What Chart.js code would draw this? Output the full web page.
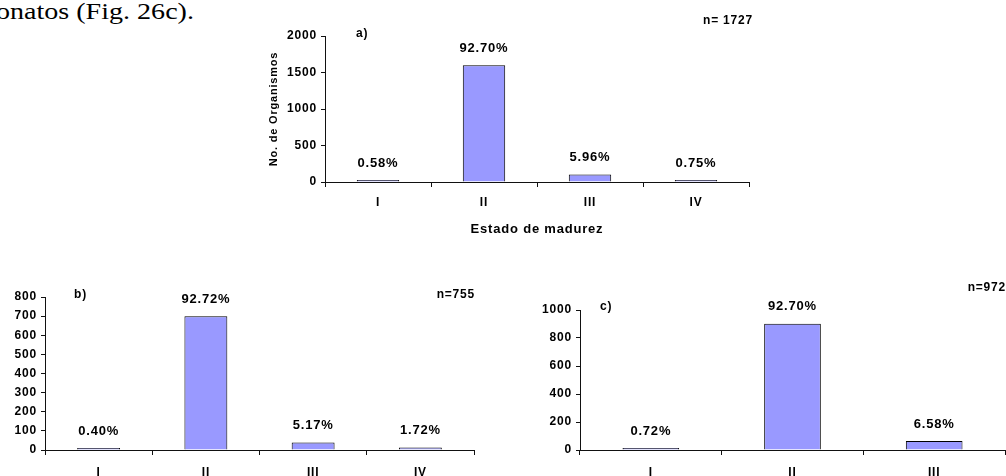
<!DOCTYPE html>
<html>
<head>
<meta charset="utf-8">
<script src="https://cdn.jsdelivr.net/npm/chart.js@4.4.1/dist/chart.umd.min.js"></script>
<style>
  html, body { margin: 0; padding: 0; background: #fff; }
  body { width: 1006px; height: 476px; overflow: hidden; position: relative; }
  canvas { position: absolute; }
  #lead {
    position: absolute; left: -4px; top: -1px;
    font: 23px "Liberation Serif", "Times New Roman", serif; color: #000;
    transform: scaleX(1.22); transform-origin: 0 0; white-space: nowrap;
  }
</style>
</head>
<body>
<div id="lead">onatos (Fig. 26c).</div>
<canvas id="chartA" width="540" height="245" style="left:240px;top:0px;width:540px;height:245px"></canvas>
<canvas id="chartB" width="500" height="215" style="left:0px;top:280px;width:500px;height:215px"></canvas>
<canvas id="chartC" width="500" height="215" style="left:530px;top:280px;width:500px;height:215px"></canvas>
<script>
// estados de madurez
const stages = ['I', 'II', 'III', 'IV'];
const stagesC = ['I', 'II', 'III'];

// a) total
const countsA = [10, 1601, 103, 13];
const percentA = ['0.58%', '92.70%', '5.96%', '0.75%'];
// b)
const countsB = [3, 700, 39, 13];
const percentB = ['0.40%', '92.72%', '5.17%', '1.72%'];
// c)
const countsC = [7, 901, 64];
const percentC = ['0.72%', '92.70%', '6.58%'];

const FONT = '"Liberation Sans", Arial, sans-serif';
Chart.defaults.font.family = FONT;
Chart.defaults.font.weight = 'bold';
Chart.defaults.color = '#000';

const barText = (percents, panel, panelAt, total, totalAt) => ({
    id: 'barText',
    beforeUpdate(chart) { chart.ctx.letterSpacing = '0.8px'; },
    beforeDraw(chart) { chart.ctx.letterSpacing = '0.8px'; },
    afterDatasetsDraw(chart) {
        const ctx = chart.ctx;
        ctx.save();
        ctx.fillStyle = '#000';
        ctx.font = 'bold 13px ' + FONT;
        ctx.textAlign = 'center';
        ctx.textBaseline = 'middle';
        chart.getDatasetMeta(0).data.forEach((bar, i) => {
            ctx.fillText(percents[i], bar.x, bar.y - 17);
        });
        ctx.font = 'bold 12px ' + FONT;
        ctx.textAlign = 'left';
        ctx.fillText(panel, panelAt[0], panelAt[1]);
        ctx.textAlign = 'right';
        ctx.fillText(total, totalAt[0], totalAt[1]);
        ctx.restore();
    }
});

const makeChart = (id, labels, counts, yMax, yStep, box, plugin) => new Chart(document.getElementById(id), {
    type: 'bar',
    data: {
        labels: labels,
        datasets: [{
            data: counts,
            backgroundColor: '#9999FF',
            borderColor: '#000',
            borderWidth: 1,
            minBarLength: 2,
            barPercentage: 0.4,
            categoryPercentage: 1
        }]
    },
    options: {
        responsive: false,
        animation: false,
        events: [],
        layout: { padding: box.padding },
        plugins: { legend: { display: false }, tooltip: { enabled: false } },
        scales: {
            x: {
                grid: { offset: true, drawOnChartArea: false, tickLength: 5, color: '#111' },
                border: { color: '#111', width: 1 },
                ticks: { padding: box.xPad, font: { size: 12, weight: 'bold' }, color: '#000' },
                title: box.xTitle
                    ? { display: true, text: box.xTitle, font: { size: 13, weight: 'bold' }, padding: 0, color: '#000' }
                    : { display: false },
                afterFit(scale) { scale.height = box.xHeight; }
            },
            y: {
                min: 0,
                max: yMax,
                ticks: {
                    stepSize: yStep, padding: 4, font: { size: 12, weight: 'bold' }, color: '#000',
                    callback: (v) => String(v)
                },
                grid: { drawOnChartArea: false, tickLength: 4, color: '#111' },
                border: { color: '#111', width: 1 },
                title: box.yTitle
                    ? { display: true, text: box.yTitle, font: { size: 11, weight: 'bold' }, padding: { top: 3, bottom: 0 }, color: '#000' }
                    : { display: false },
                afterFit(scale) { scale.width = box.yWidth; }
            }
        }
    },
    plugins: [plugin]
});

makeChart('chartA', stages, countsA, 2000, 500, {
    padding: { left: 24, right: 31, top: 36, bottom: 8 },
    yWidth: 61, xHeight: 55, xPad: 8,
    xTitle: 'Estado de madurez', yTitle: 'No. de Organismos'
}, barText(percentA, 'a)', [116, 34], 'n= 1727', [513, 21]));

makeChart('chartB', stages, countsB, 800, 100, {
    padding: { left: 0, right: 26, top: 17, bottom: 0 },
    yWidth: 45, xHeight: 45, xPad: 10
}, barText(percentB, 'b)', [74, 15], 'n=755', [475, 15]));

makeChart('chartC', stagesC, countsC, 1000, 200, {
    padding: { left: 0, right: 25, top: 30, bottom: 0 },
    yWidth: 50, xHeight: 45, xPad: 10
}, barText(percentC, 'c)', [70, 27], 'n=972', [476, 8]));
</script>
</body>
</html>
